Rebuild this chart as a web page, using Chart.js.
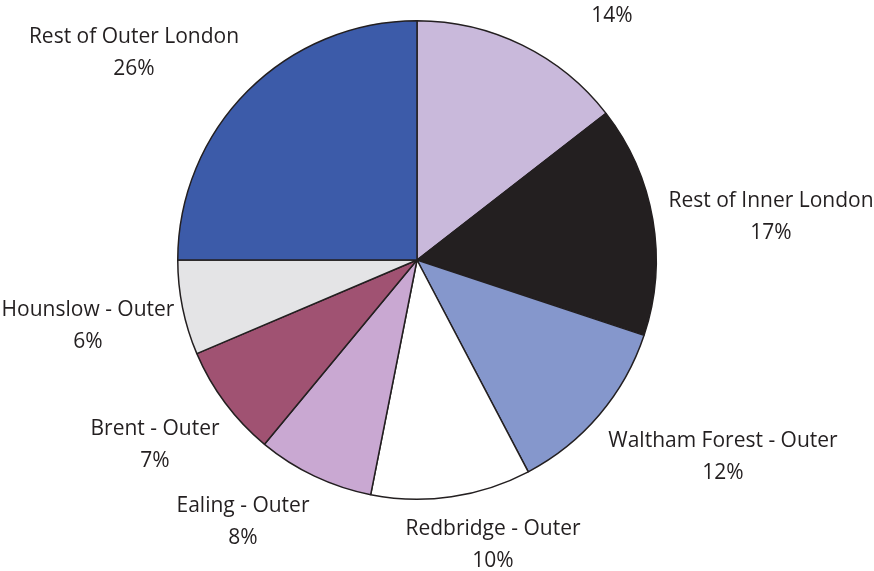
<!DOCTYPE html>
<html>
<head>
<meta charset="utf-8">
<script src="https://cdn.jsdelivr.net/npm/chart.js@4/dist/chart.umd.min.js"></script>
<style>
    html, body { margin: 0; padding: 0; background: #ffffff; }
    #wrap { width: 874px; height: 571px; position: relative; }
</style>
</head>
<body>
<div id="wrap"><canvas id="myChart"></canvas></div>
<script>
// slices clockwise from 12 o'clock
const categories = [
    '', // name cut off above the picture
    'Rest of Inner London',
    'Waltham Forest - Outer',
    'Redbridge - Outer',
    'Ealing - Outer',
    'Brent - Outer',
    'Hounslow - Outer',
    'Rest of Outer London',
];
const shares = [14.5, 15.6, 12.2, 10.8, 7.9, 7.6, 6.4, 25.0];
const shareLabels = ['14%', '17%', '12%', '10%', '8%', '7%', '6%', '26%']; // as printed
const sliceColors = [
    '#c9b9db',
    '#231f20',
    '#8597cc',
    '#ffffff',
    '#c9a8d2',
    '#a05272',
    '#e4e4e6',
    '#3c5ba9',
];
// label block centre offsets from the pie centre (px)
const labelOffsets = [
    [195, -260],
    [354, -43],
    [306, 197],
    [76, 285],
    [-174, 262],
    [-262, 185],
    [-329, 66],
    [-283, -207],
];

const labelPlugin = {
    id: 'sliceLabels',
    afterDraw(chart) {
        const ctx = chart.ctx;
        const arc = chart.getDatasetMeta(0).data[0];
        const cx = arc.x;
        const cy = arc.y;
        ctx.save();
        ctx.fillStyle = '#231f20';
        ctx.font = '21px "Open Sans"';
        ctx.textAlign = 'center';
        ctx.textBaseline = 'middle';
        categories.forEach((name, i) => {
            const x = cx + labelOffsets[i][0];
            const y = cy + labelOffsets[i][1];
            if (name) ctx.fillText(name, x, y - 16);
            ctx.fillText(shareLabels[i], x, y + 16);
        });
        ctx.restore();
    },
};

new Chart(document.getElementById('myChart'), {
    type: 'pie',
    data: {
        labels: categories,
        datasets: [
            {
                data: shares,
                backgroundColor: sliceColors,
                borderColor: '#231f20',
                borderWidth: 1.5,
            },
        ],
    },
    options: {
        responsive: true,
        maintainAspectRatio: false,
        animation: false,
        layout: {
            padding: { left: 177, right: 217, top: 20, bottom: 71 },
        },
        plugins: {
            legend: { display: false },
            tooltip: { enabled: false },
        },
    },
    plugins: [labelPlugin],
});
</script>
</body>
</html>
